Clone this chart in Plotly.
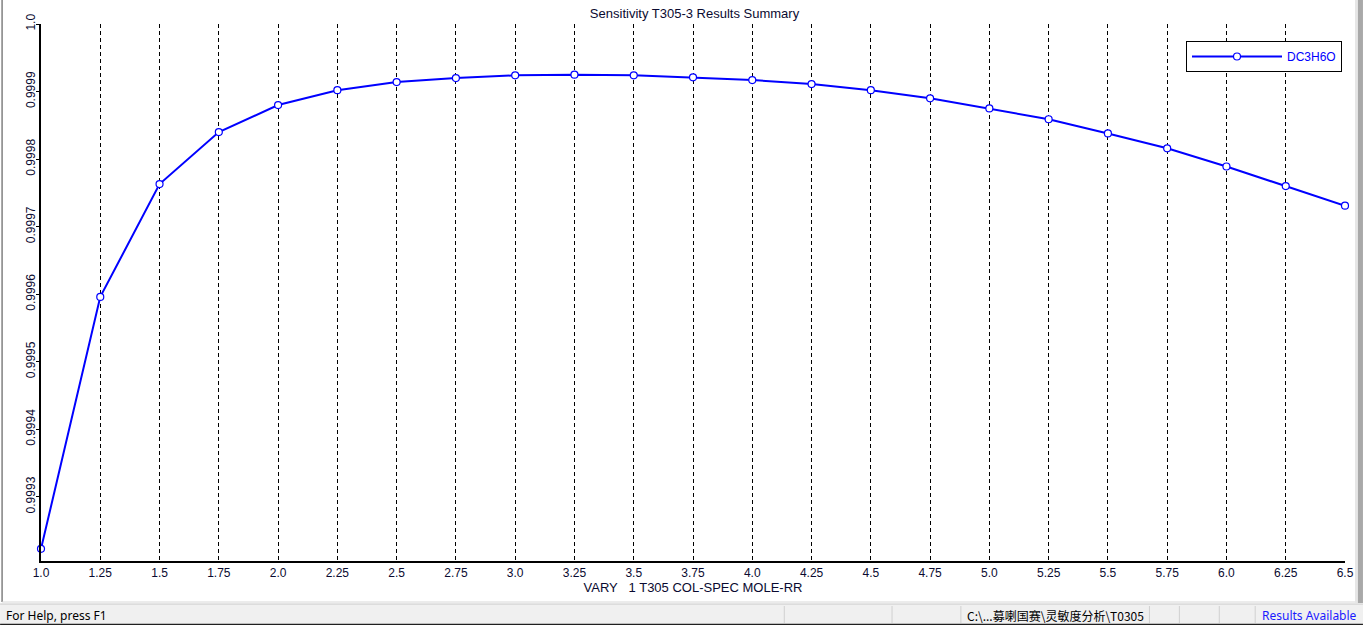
import plotly.graph_objects as go

# ---------------- data ----------------
x_values = [1.0, 1.25, 1.5, 1.75, 2.0, 2.25, 2.5, 2.75, 3.0, 3.25, 3.5, 3.75,
            4.0, 4.25, 4.5, 4.75, 5.0, 5.25, 5.5, 5.75, 6.0, 6.25, 6.5]
dc3h6o = [0.999223, 0.999596, 0.999763, 0.999840, 0.999880, 0.999902, 0.999914,
          0.999920, 0.999924, 0.999925, 0.999924, 0.999921, 0.999917, 0.999911,
          0.999902, 0.999890, 0.999875, 0.999859, 0.999838, 0.999816, 0.999789,
          0.999760, 0.999731]
x_tick_labels = ["1.0", "1.25", "1.5", "1.75", "2.0", "2.25", "2.5", "2.75", "3.0",
                 "3.25", "3.5", "3.75", "4.0", "4.25", "4.5", "4.75", "5.0", "5.25",
                 "5.5", "5.75", "6.0", "6.25", "6.5"]
y_tick_vals = [0.9993, 0.9994, 0.9995, 0.9996, 0.9997, 0.9998, 0.9999, 1.0]
y_tick_labels = ["0.9993", "0.9994", "0.9995", "0.9996", "0.9997", "0.9998", "0.9999", "1.0"]
series_name = "DC3H6O"
title_text = "Sensitivity T305-3 Results Summary"
x_title = "VARY\u00a0\u00a0\u00a01 T305 COL-SPEC MOLE-RR"
status_left = "For Help, press F1"
status_path = "C:\\...募喇国赛\\灵敏度分析\\T0305"
status_right = "Results Available"

# ---------------- geometry ----------------
W, H = 1366, 625
L, R, T, B = 41, 1348, 24, 561  # plot area in pixels


def px(X):
    return (X - L) / (R - L)


def py(Y):
    return (B - Y) / (B - T)


fig = go.Figure()
fig.add_trace(go.Scatter(
    x=x_values, y=dc3h6o, name=series_name, mode="lines+markers",
    line=dict(color="#0000ff", width=2),
    marker=dict(symbol="circle", size=7, color="white",
                line=dict(color="#0000ff", width=1.2)),
    cliponaxis=False, showlegend=True,
))

text_col = "#0a0a30"
shapes = []
annotations = []

# window borders
shapes.append(dict(type="line", xref="paper", yref="paper",
                   x0=px(2), x1=px(2), y0=py(0), y1=py(602),
                   line=dict(color="#808080", width=1.5)))
shapes.append(dict(type="line", xref="paper", yref="paper",
                   x0=px(2), x1=px(1360), y0=py(602), y1=py(602),
                   line=dict(color="#d8d8d8", width=1)))
shapes.append(dict(type="rect", xref="paper", yref="paper",
                   x0=px(1358), x1=px(1361), y0=py(0), y1=py(603),
                   line=dict(width=0), fillcolor="#e6e6e6"))
shapes.append(dict(type="rect", xref="paper", yref="paper",
                   x0=px(1361), x1=px(1366), y0=py(0), y1=py(603),
                   line=dict(width=0), fillcolor="#a9a9a9"))
# status bar
shapes.append(dict(type="rect", xref="paper", yref="paper",
                   x0=px(0), x1=px(1366), y0=py(604), y1=py(625),
                   line=dict(width=0), fillcolor="#f0f0f0"))
shapes.append(dict(type="line", xref="paper", yref="paper",
                   x0=px(0), x1=px(1366), y0=py(604), y1=py(604),
                   line=dict(color="#c8c8c8", width=1)))
shapes.append(dict(type="line", xref="paper", yref="paper",
                   x0=px(0), x1=px(1366), y0=py(624.5), y1=py(624.5),
                   line=dict(color="#202020", width=1.5)))
for sx in [786, 894, 963, 1152, 1182, 1222, 1258]:
    shapes.append(dict(type="line", xref="paper", yref="paper",
                       x0=px(sx), x1=px(sx), y0=py(606), y1=py(623),
                       line=dict(color="#d0d0d0", width=1)))

annotations.append(dict(text=status_left, xref="paper", yref="paper",
                        x=px(4), y=py(615), xanchor="left", yanchor="middle",
                        showarrow=False,
                        font=dict(family="Noto Sans, Noto Sans CJK SC", size=12, color="#000000")))
annotations.append(dict(text=status_path, xref="paper", yref="paper",
                        x=px(967), y=py(615), xanchor="left", yanchor="middle",
                        showarrow=False,
                        font=dict(family="Noto Sans CJK SC, Noto Sans", size=12, color="#000000")))
annotations.append(dict(text=status_right, xref="paper", yref="paper",
                        x=px(1263), y=py(615), xanchor="left", yanchor="middle",
                        showarrow=False,
                        font=dict(family="Noto Sans", size=12, color="#1a1aff")))

fig.update_layout(
    width=W, height=H,
    margin=dict(l=L, r=W - R, t=T, b=H - B, pad=0),
    paper_bgcolor="white", plot_bgcolor="white",
    font=dict(family="Liberation Sans, Arial", size=12, color=text_col),
    title=dict(text=title_text, x=(L + R) / 2 / W, xanchor="center",
               y=1 - 13 / H, yanchor="middle", yref="container",
               font=dict(family="Liberation Sans, Arial", size=13, color=text_col)),
    xaxis=dict(
        range=[1.0, 6.5], tickmode="array", tickvals=x_values, ticktext=x_tick_labels,
        showgrid=True, gridcolor="#000000", gridwidth=1, griddash="4px,3px",
        showline=True, linecolor="#000000", linewidth=1.5, ticks="",
        zeroline=False, tickfont=dict(size=12, color=text_col),
        title=dict(text=x_title, standoff=3,
                   font=dict(size=13, color=text_col)),
    ),
    yaxis=dict(
        range=[0.999205, 1.0], tickmode="array", tickvals=y_tick_vals, ticktext=y_tick_labels,
        showgrid=False, showline=True, linecolor="#000000", linewidth=1.5,
        ticks="outside", ticklen=3, tickcolor="#000000", tickangle=-90,
        ticklabelstandoff=-4,
        zeroline=False, tickfont=dict(size=12, color=text_col),
    ),
    legend=dict(
        x=px(1345), xanchor="right", y=py(41), yanchor="top",
        bgcolor="white", bordercolor="#000000", borderwidth=1,
        font=dict(size=12, color="#0000ff"), itemwidth=90,
    ),
    showlegend=True,
    shapes=shapes, annotations=annotations,
)

fig.write_html("out.html", config={"displayModeBar": False},
               post_script="document.body.style.margin='0';document.body.style.overflow='hidden';")
